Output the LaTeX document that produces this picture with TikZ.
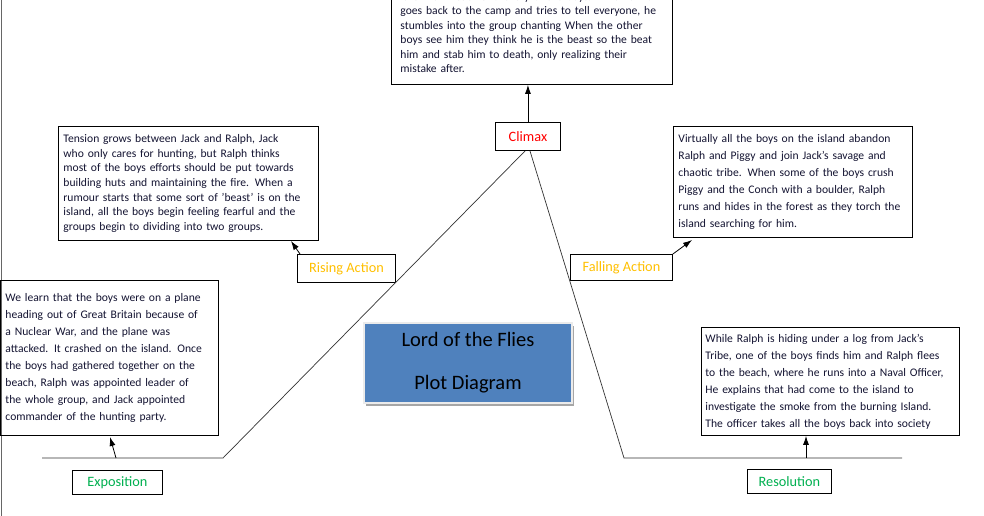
\documentclass[tikz,border=0pt]{standalone}
\usepackage{fontspec}
\setmainfont{Carlito}
\usetikzlibrary{arrows.meta,positioning}
\definecolor{txt}{RGB}{20,20,50}
\definecolor{amber}{RGB}{255,192,0}
\definecolor{grn}{RGB}{0,176,80}
\definecolor{titleblue}{RGB}{79,129,189}
\begin{document}
\begin{tikzpicture}[x=1pt,y=-1pt,
  tbox/.style={draw=black,line width=0.9pt,anchor=north west,align=left,text=txt,inner xsep=9pt,inner ysep=4pt,font=\fontsize{11.6}{17}\selectfont},
  lbl/.style={draw=black,line width=0.9pt,anchor=north west,inner sep=0pt,font=\fontsize{14.3}{16}\selectfont},
  arr/.style={-{Latex[length=9pt,width=6pt]},line width=0.8pt},
  plot/.style={line width=0.7pt,draw=black!80}]
\useasboundingbox (0,0) rectangle (984,516);
\fill[white] (0,0) rectangle (984,516);
\draw[line width=1pt,black!60] (1,0) -- (1,516);
% climax box
\node[tbox,minimum width=281pt,minimum height=104pt,text width=263pt,font=\fontsize{11.6}{14.5}\selectfont] (cbox) at (391,-20) {It is within each and every of the boys. When Simon\\goes back to the camp and tries to tell everyone, he\\stumbles into the group chanting When the other\\boys see him they think he is the beast so the beat\\him and stab him to death, only realizing their\\mistake after.};
\node[lbl,minimum width=65pt,minimum height=28pt,text=red] (climax) at (495,122) {Climax};
% rising
\node[tbox,minimum width=260pt,minimum height=114pt,text width=250pt,inner xsep=5pt,font=\fontsize{11.6}{14.6}\selectfont] (rbox) at (58,126) {Tension grows between Jack and Ralph, Jack\\who only cares for hunting, but Ralph thinks\\most of the boys efforts should be put towards\\building huts and maintaining the fire. When a\\rumour starts that some sort of 'beast' is on the\\island, all the boys begin feeling fearful and the\\groups begin to dividing into two groups.};
\node[lbl,minimum width=98pt,minimum height=28pt,text=amber] (rising) at (297,254) {Rising Action};
% falling
\node[tbox,minimum width=239pt,minimum height=111pt,text width=229pt,inner xsep=5pt] (fbox) at (673,126) {Virtually all the boys on the island abandon\\Ralph and Piggy and join Jack's savage and\\chaotic tribe. When some of the boys crush\\Piggy and the Conch with a boulder, Ralph\\runs and hides in the forest as they torch the\\island searching for him.};
\node[lbl,minimum width=102pt,minimum height=26pt,text=amber] (falling) at (570,254) {Falling Action};
% exposition
\node[tbox,minimum width=218pt,minimum height=155pt,text width=208pt,inner xsep=5pt] (ebox) at (0,280) {We learn that the boys were on a plane\\heading out of Great Britain because of\\a Nuclear War, and the plane was\\attacked. It crashed on the island. Once\\the boys had gathered together on the\\beach, Ralph was appointed leader of\\the whole group, and Jack appointed\\commander of the hunting party.};
\node[lbl,minimum width=90pt,minimum height=24pt,text=grn] (expo) at (72,470) {Exposition};
% resolution
\node[tbox,minimum width=258pt,minimum height=108pt,text width=250pt,inner xsep=4pt] (resbox) at (701,327) {While Ralph is hiding under a log from Jack's\\Tribe, one of the boys finds him and Ralph flees\\to the beach, where he runs into a Naval Officer,\\He explains that had come to the island to\\investigate the smoke from the burning Island.\\The officer takes all the boys back into society};
\node[lbl,minimum width=84pt,minimum height=24pt,text=grn] (reso) at (747,469) {Resolution};
% title
\fill[black!35] (366,326) rectangle (574,406);
\node[draw=white!92!black,line width=2pt,fill=titleblue,anchor=north west,minimum width=208pt,minimum height=80pt,align=center,font=\fontsize{20.5}{43}\selectfont,inner sep=0pt] (title) at (363,322) {Lord of the Flies\\Plot Diagram};
% plot line
\coordinate (p1) at (42,458);
\coordinate (p2) at (223,458);
\coordinate (p3) at (624,458);
\coordinate (p4) at (902,458);
\draw[plot] (p1) -- (p2) -- (525,151);
\draw[plot] (530,151) -- (p3) -- (p4);
% arrows
\coordinate (ea) at (116,458);
\coordinate (ra) at (806,458);
\draw[arr] (climax.north) -- (cbox.south -| climax.north);
\draw[arr] (rising.north west) ++(3,0) -- (291,241);
\draw[arr] (falling.north east) -- (692,240);
\draw[arr] (ea) -- (110,437);
\draw[arr] (ra) -- (resbox.south -| ra);
\end{tikzpicture}
\end{document}
